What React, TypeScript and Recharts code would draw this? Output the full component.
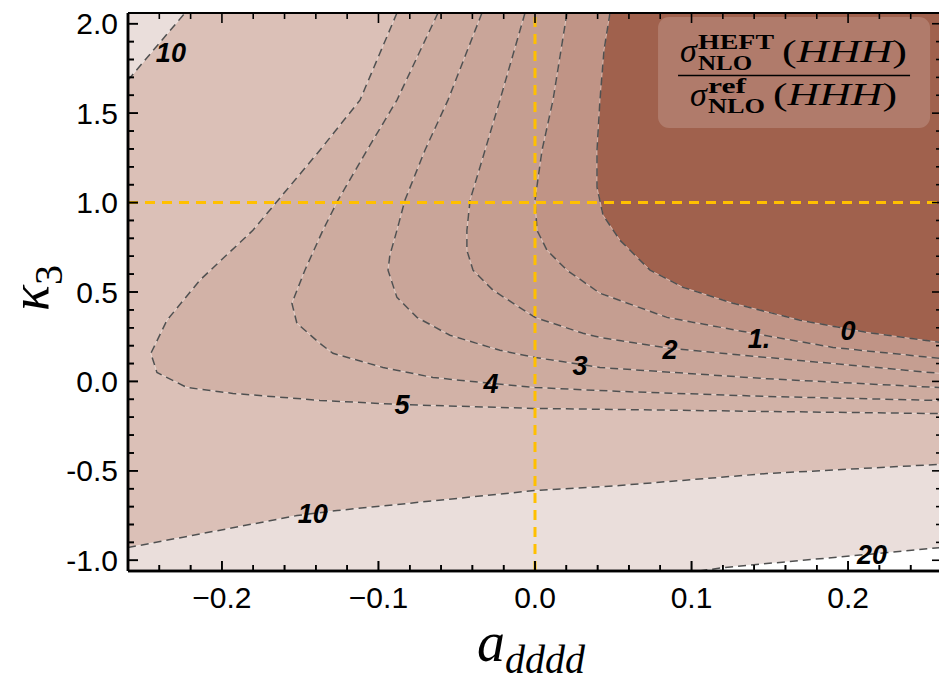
import React from 'react';
import { ScatterChart, Scatter, XAxis, YAxis, ReferenceArea, Curve } from 'recharts';

const X_MIN = -0.26;
const X_MAX = 0.26;
const Y_MIN = -1.06;
const Y_MAX = 2.06;

// chart layout
const CHART_W = 960;
const CHART_H = 681;
const M_TOP = 13;
const M_RIGHT = 18;
const Y_AXIS_W = 128;
const X_AXIS_H = 110;
const PLOT_LEFT = Y_AXIS_W;
const PLOT_TOP = M_TOP;
const PLOT_RIGHT = CHART_W - M_RIGHT;
const PLOT_BOTTOM = CHART_H - X_AXIS_H;

const xMajor = [-0.2, -0.1, 0, 0.1, 0.2];
const xMinor = [
  -0.24, -0.22, -0.18, -0.16, -0.14, -0.12, -0.08, -0.06, -0.04, -0.02,
  0.02, 0.04, 0.06, 0.08, 0.12, 0.14, 0.16, 0.18, 0.22, 0.24,
];
const yMajor = [-1, -0.5, 0, 0.5, 1, 1.5, 2];
const yMinor = [
  -0.9, -0.8, -0.7, -0.6, -0.4, -0.3, -0.2, -0.1, 0.1, 0.2, 0.3, 0.4,
  0.6, 0.7, 0.8, 0.9, 1.1, 1.2, 1.3, 1.4, 1.6, 1.7, 1.8, 1.9,
];

// contour lines (a_dddd, kappa_3)
const contour20: [number, number][] = [
  [0.105, -1.06], [0.12, -1.041], [0.225, -0.957], [0.26, -0.928],
];
const contour10top: [number, number][] = [
  [-0.26, 1.685], [-0.2236, 2.06],
];
const contour10bottom: [number, number][] = [
  [-0.26, -0.929], [-0.214, -0.853], [-0.152, -0.75], [-0.1265, -0.722],
  [0, -0.61], [0.054, -0.582], [0.148, -0.515], [0.26, -0.463],
];
const contour5: [number, number][] = [
  [-0.0882, 2.06], [-0.1118, 1.573], [-0.1374, 1.293], [-0.1802, 0.845],
  [-0.2141, 0.566], [-0.2351, 0.342], [-0.2454, 0.157], [-0.2415, 0.05],
  [-0.2224, -0.034], [-0.193, -0.067], [-0.1374, -0.106], [-0.0863, -0.129],
  [0, -0.151], [0.0543, -0.157], [0.148, -0.168], [0.26, -0.18],
];
const contour4: [number, number][] = [
  [-0.062, 2.06], [-0.0882, 1.573], [-0.1073, 1.293], [-0.1259, 1.013],
  [-0.1355, 0.845], [-0.147, 0.622], [-0.1553, 0.437], [-0.1521, 0.325],
  [-0.1374, 0.213], [-0.1291, 0.157], [-0.0971, 0.078], [-0.0652, 0.022],
  [-0.0275, -0.011], [0, -0.034], [0.0543, -0.056], [0.148, -0.084],
  [0.26, -0.107],
];
const contour3: [number, number][] = [
  [-0.0339, 2.06], [-0.0556, 1.573], [-0.0703, 1.293], [-0.0831, 1.013],
  [-0.0882, 0.845], [-0.0927, 0.706], [-0.0939, 0.622], [-0.0882, 0.47],
  [-0.0754, 0.358], [-0.0543, 0.258], [-0.0224, 0.174], [0, 0.134],
  [0.0415, 0.078], [0.148, 0.015], [0.26, -0.035],
];
const contour2: [number, number][] = [
  [-0.0064, 2.06], [-0.0224, 1.573], [-0.0319, 1.293], [-0.0415, 1.013],
  [-0.0435, 0.845], [-0.0435, 0.733], [-0.0396, 0.622], [-0.0268, 0.51],
  [0, 0.358], [0.0307, 0.269], [0.0415, 0.246], [0.0863, 0.185],
  [0.1482, 0.134], [0.26, 0.044],
];
const contour1: [number, number][] = [
  [0.0204, 2.06], [0.0115, 1.573], [0.0045, 1.293], [0, 1.013],
  [0.0013, 0.845], [0.0077, 0.733], [0.0204, 0.622], [0.0415, 0.493],
  [0.0843, 0.358], [0.1393, 0.269], [0.1904, 0.19], [0.26, 0.128],
];
const contour0: [number, number][] = [
  [0.0479, 2.06], [0.0441, 1.853], [0.0415, 1.573], [0.0396, 1.293],
  [0.0396, 1.086], [0.0435, 0.929], [0.0543, 0.789], [0.0735, 0.622],
  [0.0946, 0.526], [0.1265, 0.437], [0.1693, 0.342], [0.2121, 0.274],
  [0.26, 0.217],
];

const labelText = ['10', '10', '5', '4', '3', '2', '1.', '0', '20'];
const labelX = [-0.2326, -0.1419, -0.085, -0.0281, 0.0288, 0.0863, 0.1431, 0.2, 0.2153];
const labelY = [1.842, -0.739, -0.129, -0.011, 0.09, 0.179, 0.241, 0.286, -0.969];

const toPts = (arr: [number, number][]) => arr.map(([x, y]) => ({ x, y }));

const region20 = [
  { x: X_MIN, y: Y_MIN }, ...toPts(contour20), { x: X_MAX, y: Y_MAX }, { x: X_MIN, y: Y_MAX },
];
const region10 = [
  ...toPts(contour10top), { x: X_MAX, y: Y_MAX }, ...toPts(contour10bottom).reverse(),
];
const closeTopRight = (arr: [number, number][]) => [...toPts(arr), { x: X_MAX, y: Y_MAX }];

const fills = [
  { pts: region20, color: '#EADEDB' },
  { pts: region10, color: '#DBC0B7' },
  { pts: closeTopRight(contour5), color: '#D2B2A7' },
  { pts: closeTopRight(contour4), color: '#CDAB9F' },
  { pts: closeTopRight(contour3), color: '#C9A599' },
  { pts: closeTopRight(contour2), color: '#C59E91' },
  { pts: closeTopRight(contour1), color: '#C09486' },
  { pts: closeTopRight(contour0), color: '#A0614D' },
];
const lines = [contour20, contour10top, contour10bottom, contour5, contour4, contour3, contour2, contour1, contour0];
const labels = labelText.map((t, i) => ({ x: labelX[i], y: labelY[i], t }));

const SANS = '"Liberation Sans", Arial, Helvetica, sans-serif';
const SERIF = '"Liberation Serif", "Times New Roman", "DejaVu Serif", serif';

const isMajor = (v: number, majors: number[]) => majors.some((m) => Math.abs(m - v) < 1e-9);
const fmtX = (v: number) => (Math.abs(v) < 1e-9 ? '0.0' : (v < 0 ? '\u2212' : '') + Math.abs(v).toFixed(1));
const fmtY = (v: number) => v.toFixed(1);

const xTicks = [...xMajor, ...xMinor];
const yTicks = [...yMajor, ...yMinor];

const noDot = () => <g />;

function BottomTick(props: any) {
  const { x, y, payload } = props;
  const len = isMajor(payload.value, xMajor) ? 10 : 6;
  return (
    <g>
      <line x1={x} x2={x} y1={y} y2={y - len} stroke="#000" strokeWidth={1.6} />
      {len === 10 && (
        <text x={x} y={y + 37} textAnchor="middle" fontSize={30} fontFamily={SANS} fill="#000">
          {fmtX(payload.value)}
        </text>
      )}
    </g>
  );
}

function LeftTick(props: any) {
  const { x, y, payload } = props;
  const len = isMajor(payload.value, yMajor) ? 10 : 6;
  return (
    <g>
      <line x1={x} x2={x + len} y1={y} y2={y} stroke="#000" strokeWidth={1.6} />
      {len === 10 && (
        <text x={x - 10} y={y + 10.5} textAnchor="end" fontSize={30} fontFamily={SANS} fill="#000">
          {fmtY(payload.value)}
        </text>
      )}
    </g>
  );
}

function XLabel(props: any) {
  const { viewBox } = props;
  const cx = viewBox.x + viewBox.width / 2 - 4;
  const cy = viewBox.y + 90;
  return (
    <text x={cx} y={cy} textAnchor="middle" fontFamily={SERIF} fontStyle="italic" fontSize={56} fill="#000">
      a
      <tspan fontSize={40} dy={12}>dddd</tspan>
    </text>
  );
}

function YLabel(props: any) {
  const { viewBox } = props;
  const cx = viewBox.x + 48;
  const cy = viewBox.y + viewBox.height / 2 - 4;
  return (
    <text
      x={cx}
      y={cy}
      transform={`rotate(-90 ${cx} ${cy})`}
      textAnchor="middle"
      fontFamily={SERIF}
      fontStyle="italic"
      fontSize={54}
      fill="#000"
    >
      κ
      <tspan fontSize={40} fontStyle="normal" dy={14}>3</tspan>
    </text>
  );
}

function ContourPath(p: any) {
  return (
    <g>
      <Curve points={p.points} type="linear" stroke="rgba(255,255,255,0.45)" strokeWidth={1} fill="none" />
      <Curve points={p.points} type="linear" stroke="#505050" strokeWidth={1.5} strokeDasharray="8 5" fill="none" />
    </g>
  );
}

function LabelText(p: any) {
  return (
    <text
      x={p.cx}
      y={p.cy}
      dy="0.36em"
      textAnchor="middle"
      fontFamily={SANS}
      fontWeight="bold"
      fontStyle="italic"
      fontSize={27}
      fill="#000"
    >
      {p.payload.t}
    </text>
  );
}

function LegendBox(p: any) {
  const { x, y, width, height } = p;
  const sup = { fontFamily: SERIF, fontWeight: 'bold' as const, fontSize: 20, fill: '#000', lengthAdjust: 'spacingAndGlyphs' };
  const big = { fontFamily: SERIF, fontSize: 31, fill: '#000', lengthAdjust: 'spacingAndGlyphs' };
  return (
    <g>
      <rect x={x} y={y} width={width} height={height} rx={11} fill="rgba(255,255,255,0.17)" />
      <text x={x + 22} y={y + 45} fontFamily={SERIF} fontStyle="italic" fontSize={34} fill="#000">σ</text>
      <text x={x + 40} y={y + 32} {...sup} textLength={76}>HEFT</text>
      <text x={x + 40} y={y + 53} {...sup} textLength={54}>NLO</text>
      <text x={x + 124} y={y + 45} {...big} textLength={125}>
        (<tspan fontStyle="italic">HHH</tspan>)
      </text>
      <line x1={x + 20} x2={x + 252} y1={y + 58.5} y2={y + 58.5} stroke="#000" strokeWidth={1.4} />
      <text x={x + 32} y={y + 89} fontFamily={SERIF} fontStyle="italic" fontSize={34} fill="#000">σ</text>
      <text x={x + 50} y={y + 76} {...sup} textLength={38}>ref</text>
      <text x={x + 50} y={y + 96} {...sup} textLength={57}>NLO</text>
      <text x={x + 115} y={y + 88} {...big} textLength={124}>
        (<tspan fontStyle="italic">HHH</tspan>)
      </text>
    </g>
  );
}

// frame with inward ticks on all four sides, laid over the chart so it stays on top
function Frame() {
  const sx = (v: number) => PLOT_LEFT + ((v - X_MIN) / (X_MAX - X_MIN)) * (PLOT_RIGHT - PLOT_LEFT);
  const sy = (v: number) => PLOT_TOP + ((Y_MAX - v) / (Y_MAX - Y_MIN)) * (PLOT_BOTTOM - PLOT_TOP);
  return (
    <svg
      width={939}
      height={681}
      style={{ position: 'absolute', left: 0, top: 0, pointerEvents: 'none' }}
    >
      <line x1={PLOT_LEFT} x2={PLOT_RIGHT} y1={PLOT_TOP} y2={PLOT_TOP} stroke="#000" strokeWidth={1.8} />
      <line x1={PLOT_LEFT} x2={PLOT_RIGHT} y1={PLOT_BOTTOM} y2={PLOT_BOTTOM} stroke="#000" strokeWidth={2.5} />
      <line x1={PLOT_LEFT} x2={PLOT_LEFT} y1={PLOT_TOP} y2={PLOT_BOTTOM} stroke="#000" strokeWidth={2.5} />
      <line x1={PLOT_RIGHT} x2={PLOT_RIGHT} y1={PLOT_TOP} y2={PLOT_BOTTOM} stroke="#000" strokeWidth={1.8} />
      {xTicks.map((v) => {
        const len = isMajor(v, xMajor) ? 10 : 6;
        const x = sx(v);
        return (
          <g key={`xt-${v}`}>
            <line x1={x} x2={x} y1={PLOT_TOP} y2={PLOT_TOP + len} stroke="#000" strokeWidth={1.6} />
            <line x1={x} x2={x} y1={PLOT_BOTTOM} y2={PLOT_BOTTOM - len} stroke="#000" strokeWidth={1.6} />
          </g>
        );
      })}
      {yTicks.map((v) => {
        const len = isMajor(v, yMajor) ? 10 : 6;
        const y = sy(v);
        return (
          <g key={`yt-${v}`}>
            <line x1={PLOT_LEFT} x2={PLOT_LEFT + len} y1={y} y2={y} stroke="#000" strokeWidth={1.6} />
            <line x1={PLOT_RIGHT} x2={PLOT_RIGHT - len} y1={y} y2={y} stroke="#000" strokeWidth={1.6} />
          </g>
        );
      })}
    </svg>
  );
}

export default function App() {
  const orange = { stroke: '#FFC000', strokeWidth: 3, strokeDasharray: '10 7', fill: 'none' };
  return (
    <div style={{ position: 'absolute', left: 0, top: 0, width: 939, height: 681, overflow: 'hidden', background: '#fff' }}>
      <ScatterChart width={CHART_W} height={CHART_H} margin={{ top: M_TOP, right: M_RIGHT, bottom: 0, left: 0 }}>
        {fills.map((f, i) => (
          <Scatter
            key={`fill-${i}`}
            data={f.pts}
            fill={f.color}
            shape={noDot}
            line={{ fill: f.color, stroke: 'none' }}
            lineJointType="linear"
            isAnimationActive={false}
          />
        ))}

        {lines.map((c, i) => (
          <Scatter
            key={`line-${i}`}
            data={toPts(c)}
            shape={noDot}
            line={ContourPath}
            isAnimationActive={false}
          />
        ))}

        <Scatter data={[{ x: 0, y: Y_MIN }, { x: 0, y: Y_MAX }]} shape={noDot} line={orange} isAnimationActive={false} />
        <Scatter data={[{ x: X_MIN, y: 1 }, { x: X_MAX, y: 1 }]} shape={noDot} line={orange} isAnimationActive={false} />

        <Scatter data={labels} shape={LabelText} isAnimationActive={false} />

        <ReferenceArea
          x1={0.0786}
          x2={0.2524}
          y1={1.417}
          y2={2.038}
          shape={LegendBox}
          ifOverflow="visible"
          zIndex={1600}
        />

        <XAxis
          type="number"
          dataKey="x"
          domain={[X_MIN, X_MAX]}
          allowDataOverflow
          ticks={xTicks}
          interval={0}
          tickSize={0}
          tickMargin={0}
          tickLine={false}
          tick={BottomTick}
          height={X_AXIS_H}
          axisLine={{ stroke: '#000', strokeWidth: 2.5 }}
          label={XLabel}
          zIndex={1700}
        />
        <YAxis
          type="number"
          dataKey="y"
          domain={[Y_MIN, Y_MAX]}
          allowDataOverflow
          ticks={yTicks}
          interval={0}
          tickSize={0}
          tickMargin={0}
          tickLine={false}
          tick={LeftTick}
          width={Y_AXIS_W}
          axisLine={{ stroke: '#000', strokeWidth: 2.5 }}
          label={YLabel}
          zIndex={1700}
        />
      </ScatterChart>
      <Frame />
    </div>
  );
}
